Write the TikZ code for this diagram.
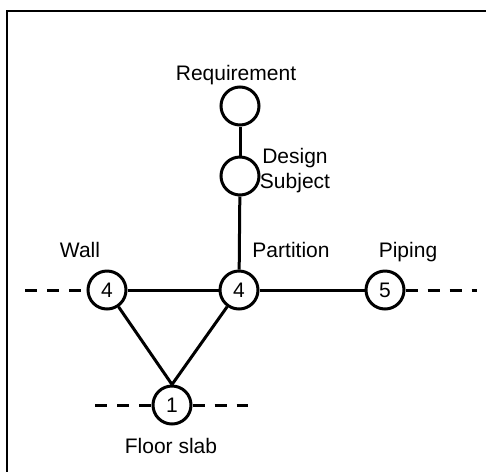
\documentclass[tikz,border=0pt]{standalone}
\usepackage{fontspec}
\setmainfont{Liberation Sans}
\begin{document}
\begin{tikzpicture}[x=1pt,y=-1pt,
  every node/.style={font=\fontsize{21}{25}\selectfont},
  elem/.style={circle,draw,line width=3pt,fill=white,minimum size=38pt,inner sep=0pt},
  link/.style={line width=3pt},
  cont/.style={line width=3pt,dash pattern=on 12pt off 10pt},
  label/.style={anchor=base,inner sep=0pt},
  frame/.style={line width=1.5pt}]
\useasboundingbox (0,0) rectangle (486,472);

% partial frame: top and left edges
\coordinate (fTR) at (486,11);
\coordinate (fTL) at (7,11);
\coordinate (fBL) at (7,472);
\draw[frame] (fTR) -- (fTL) -- (fBL);

% continuation ends of the dashed lines
\coordinate (wallEnd) at (25,290);
\coordinate (pipeEnd) at (477,290);
\coordinate (slabL) at (95,405);
\coordinate (slabR) at (248,405);

% elements
\node[elem] (req)  at (240,106) {};
\node[elem] (des)  at (240,176) {};
\node[elem] (part) at (239,290) {4};
\node[elem] (wall) at (107,290) {4};
\node[elem] (pipe) at (385,290) {5};
\node[elem] (slab) at (172,405) {1};

% connectors
\draw[link] (req) -- (des);
\draw[link] (des) -- (part);
\draw[link] (wall) -- (part);
\draw[link] (part) -- (pipe);
\draw[link] (wall) -- (slab.north);
\draw[link] (part) -- (slab.north);

% dashed continuations
\draw[cont] (wallEnd) -- (wall);
\draw[cont] (pipe) -- (pipeEnd);
\draw[cont] (slabL) -- (slab);
\draw[cont] (slab) -- (slabR);

% labels
\node[label] (lreq)  at (236,80)  {Requirement};
\node[label,align=center] (ldes) at (295,188) {Design\\Subject};
\node[label] (lwall) at (80,257)  {Wall};
\node[label] (lpart) at (291,257) {Partition};
\node[label] (lpipe) at (408,257) {Piping};
\node[label] (lslab) at (171,453) {Floor slab};
\end{tikzpicture}
\end{document}
